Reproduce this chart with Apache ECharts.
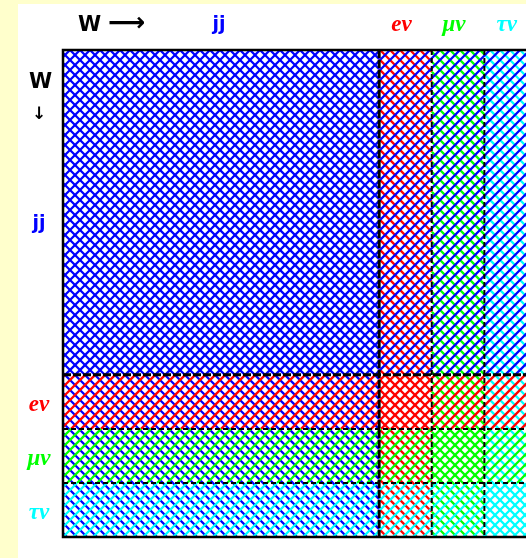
<!DOCTYPE html>
<html><head><meta charset="utf-8">
<script src="https://cdn.jsdelivr.net/npm/echarts@6/dist/echarts.min.js"></script>
<style>html,body{margin:0;padding:0;background:#FFFFCC;overflow:hidden;} #c{width:548px;height:558px;}</style>
</head><body><div id="c"></div>
<script>
// W decay channels (branching fractions as drawn)
const channels = ['jj', 'eν', 'μν', 'τν'];
const colBR = [0.667, 0.111, 0.111, 0.111];   // W -> (horizontal)
const rowBR = [0.667, 0.111, 0.111, 0.111];   // W ↓ (vertical)
const channelColors = ['#0000FF', '#FF0000', '#00FF00', '#00FFFF'];
const channelFonts = ['bold 19px "DejaVu Sans", sans-serif', 'italic bold 23px "Liberation Serif", serif',
  'italic bold 23px "Liberation Serif", serif', 'italic bold 23px "Liberation Serif", serif'];

function cumulative(a) { const out = []; let s = 0; a.forEach(v => { out.push(s); s += v; }); return out; }
const colStart = cumulative(colBR), rowStart = cumulative(rowBR);
const totalX = colBR.reduce((a, b) => a + b, 0), totalY = rowBR.reduce((a, b) => a + b, 0);

const HATCH = 10; // horizontal period of hatch lines, px
// 45° hatch lines clipped to rect; dir>0 => "/", dir<0 => "\"
function hatchLines(x0, y0, x1, y1, dir, color) {
  const out = [];
  const st = { stroke: color, lineWidth: 2.3, fill: null };
  if (dir > 0) { // x + y = c
    const cMin = Math.ceil((x0 + y0) / HATCH) * HATCH;
    for (let c = cMin; c <= x1 + y1; c += HATCH) {
      const xa = Math.max(x0, c - y1), xb = Math.min(x1, c - y0);
      if (xb > xa) out.push({ type: 'line', shape: { x1: xa, y1: c - xa, x2: xb, y2: c - xb }, style: st, silent: true });
    }
  } else { // x - y = c
    const cMin = Math.ceil((x0 - y1) / HATCH) * HATCH;
    for (let c = cMin; c <= x1 - y0; c += HATCH) {
      const xa = Math.max(x0, c + y0), xb = Math.min(x1, c + y1);
      if (xb > xa) out.push({ type: 'line', shape: { x1: xa, y1: xa - c, x2: xb, y2: xb - c }, style: st, silent: true });
    }
  }
  return out;
}

const colData = colBR.map((v, i) => [colStart[i], colStart[i] + v, i]);
const rowData = rowBR.map((v, i) => [rowStart[i], rowStart[i] + v, i]);

const chart = echarts.init(document.getElementById('c'));
chart.setOption({
  backgroundColor: '#FFFFCC',
  animation: false,
  grid: { left: 63, top: 50, width: 474, height: 487 },
  xAxis: { type: 'value', min: 0, max: totalX, show: false },
  yAxis: { type: 'value', min: 0, max: totalY, inverse: true, show: false },
  graphic: [
    { type: 'rect', left: 18, top: 4, shape: { width: 540, height: 560 }, style: { fill: '#FFFFFF' }, z: -10 },
    { type: 'text', left: 78, top: 15, style: { text: 'W', font: 'bold 21px "DejaVu Sans", sans-serif', fill: '#000' } },
    { type: 'text', left: 108, top: 11, style: { text: '⟶', font: 'bold 26px "DejaVu Sans", sans-serif', fill: '#000' } },
    { type: 'text', left: 29, top: 72, style: { text: 'W', font: 'bold 21px "DejaVu Sans", sans-serif', fill: '#000' } },
    { type: 'text', left: 32, top: 106, style: { text: '↓', font: 'bold 17px "DejaVu Sans", sans-serif', fill: '#000' } }
  ],
  series: [
    { // columns: "\" hatching
      type: 'custom', data: colData, z: 2,
      renderItem: (p, api) => {
        const a = api.coord([api.value(0), 0]), b = api.coord([api.value(1), totalY]);
        const i = api.value(2);
        return { type: 'group', children: hatchLines(a[0], a[1], b[0], b[1], -1, channelColors[i]).concat([
          { type: 'text', x: (a[0] + b[0]) / 2 - (i ? 4 : 2), y: a[1] - 25,
            style: { text: channels[i], fill: channelColors[i], font: channelFonts[i], align: 'center', verticalAlign: 'middle' } }
        ]) };
      }
    },
    { // rows: "/" hatching
      type: 'custom', data: rowData, z: 3,
      renderItem: (p, api) => {
        const a = api.coord([0, api.value(0)]), b = api.coord([totalX, api.value(1)]);
        const i = api.value(2);
        return { type: 'group', children: hatchLines(a[0], a[1], b[0], b[1], 1, channelColors[i]).concat([
          { type: 'text', x: a[0] - 24, y: (a[1] + b[1]) / 2 + (i ? 3 : 12),
            style: { text: channels[i], fill: channelColors[i], font: channelFonts[i], align: 'center', verticalAlign: 'middle' } }
        ]) };
      }
    },
    { // dividing lines
      type: 'custom', data: colData.map((d, i) => [d[1], rowData[i][1], i]), z: 4,
      renderItem: (p, api) => {
        const i = api.value(2);
        if (i === colData.length - 1) return { type: 'group', children: [] };
        const v0 = api.coord([api.value(0), 0]), v1 = api.coord([api.value(0), totalY]);
        const h0 = api.coord([0, api.value(1)]), h1 = api.coord([totalX, api.value(1)]);
        const st = { stroke: '#000', lineWidth: i === 0 ? 3 : 2, lineDash: i === 0 ? [8, 2] : [5, 3], fill: null };
        return { type: 'group', children: [
          { type: 'line', shape: { x1: v0[0], y1: v0[1], x2: v1[0], y2: v1[1] }, style: st },
          { type: 'line', shape: { x1: h0[0], y1: h0[1], x2: h1[0], y2: h1[1] }, style: st }
        ] };
      }
    },
    { // frame
      type: 'custom', data: [[0, 0, totalX, totalY]], z: 5,
      renderItem: (p, api) => {
        const a = api.coord([api.value(0), api.value(1)]), b = api.coord([api.value(2), api.value(3)]);
        return { type: 'rect', shape: { x: a[0], y: a[1], width: b[0] - a[0], height: b[1] - a[1] },
          style: { fill: null, stroke: '#000', lineWidth: 2.5 } };
      }
    }
  ]
});
</script></body></html>
